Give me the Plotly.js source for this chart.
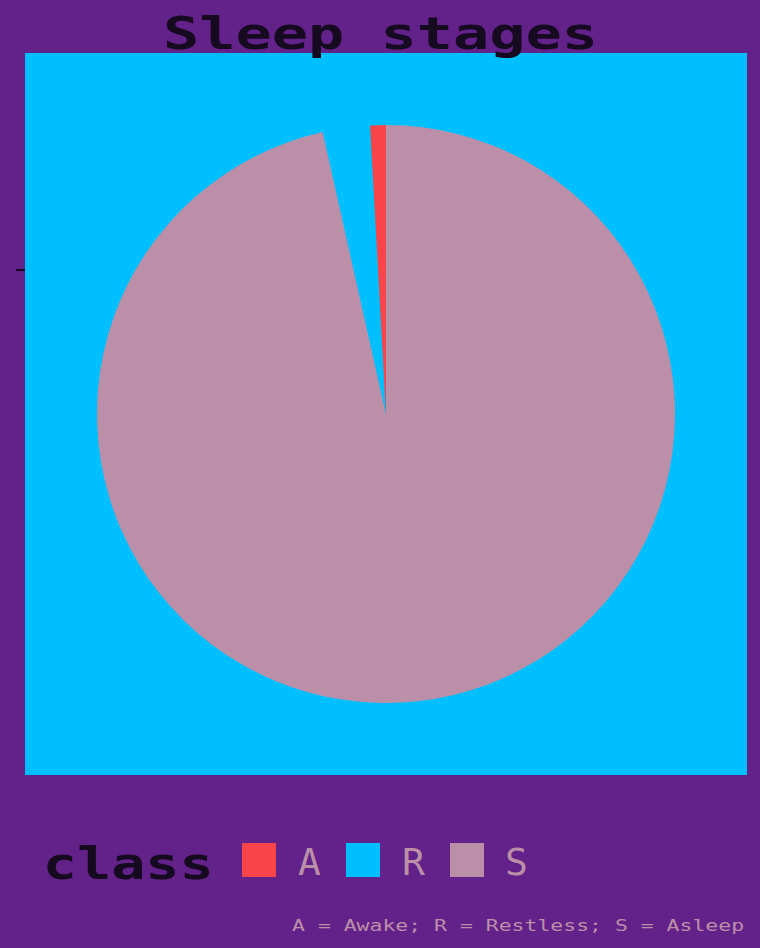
<!DOCTYPE html>
<html>
<head>
<meta charset="utf-8">
<script src="https://cdn.plot.ly/plotly-3.0.1.min.js"></script>
<style>
html,body{margin:0;padding:0;background:#63218A;}
#chart{width:760px;height:948px;}
</style>
</head>
<body>
<div id="chart"></div>
<script>
// Data
var classes = ['A', 'R', 'S'];
var minutes = [4, 12, 440];
var sliceColors = ['#F94449', '#00BFFF', '#BB8FA8'];
var titleText = 'Sleep stages';
var legendTitle = 'class';
var captionText = 'A = Awake; R = Restless; S = Asleep';

var W = 760, H = 948;
function px(x){ return x / W; }
function py(y){ return 1 - y / H; }

var dark = '#150A20';
var mauve = '#BB8FA8';
var mono = 'DejaVu Sans Mono, monospace';

// clockwise from 12 o'clock in reverse class order, so A ends just left of the top
var trace = {
  type: 'pie',
  labels: classes.slice().reverse(),
  values: minutes.slice().reverse(),
  marker: {colors: sliceColors.slice().reverse(), line: {width: 0}},
  sort: false,
  direction: 'clockwise',
  rotation: 0,
  textinfo: 'none',
  hoverinfo: 'label+value+percent',
  showlegend: false,
  domain: {x: [px(97), px(675)], y: [py(703), py(125)]}
};

var shapes = [
  {type: 'rect', xref: 'paper', yref: 'paper', layer: 'below',
   x0: px(25), x1: px(747), y0: py(775), y1: py(53),
   fillcolor: '#00BFFF', line: {width: 0}},
  {type: 'line', xref: 'paper', yref: 'paper',
   x0: px(16), x1: px(25), y0: py(270), y1: py(270),
   line: {color: dark, width: 2}}
];

var annotations = [
  {text: legendTitle, xref: 'paper', yref: 'paper', x: px(127.5), y: py(863.5),
   xanchor: 'center', yanchor: 'middle', showarrow: false,
   font: {family: mono, size: 44, color: dark, weight: 'bold'}},
  {text: captionText, xref: 'paper', yref: 'paper', x: px(518), y: py(925.7),
   xanchor: 'center', yanchor: 'middle', showarrow: false,
   font: {family: mono, size: 15, color: mauve}}
];

var keyX = [242, 346, 450];
var labelX = [309, 413, 516.5];
for (var i = 0; i < classes.length; i++) {
  shapes.push({type: 'rect', xref: 'paper', yref: 'paper',
    x0: px(keyX[i]), x1: px(keyX[i] + 34), y0: py(877), y1: py(843),
    fillcolor: sliceColors[i], line: {width: 0}});
  annotations.push({text: classes[i], xref: 'paper', yref: 'paper',
    x: px(labelX[i]), y: py(861.5), xanchor: 'center', yanchor: 'middle',
    showarrow: false, font: {family: mono, size: 38, color: mauve}});
}

var layout = {
  width: W, height: H,
  margin: {l: 0, r: 0, t: 0, b: 0},
  paper_bgcolor: '#63218A',
  plot_bgcolor: '#63218A',
  title: {text: titleText, x: px(380.5), xanchor: 'center',
          y: py(34), yanchor: 'middle',
          font: {family: mono, size: 44, color: dark, weight: 'bold'}},
  shapes: shapes,
  annotations: annotations
};

var stretch = {};
stretch[titleText] = 435;
stretch[legendTitle] = 171;
stretch[captionText] = 452;

function applyStretch(){
  var nodes = document.querySelectorAll('#chart text');
  nodes.forEach(function(n){
    var t = n.textContent;
    if (stretch[t]) {
      n.setAttribute('textLength', stretch[t]);
      n.setAttribute('lengthAdjust', 'spacingAndGlyphs');
    }
  });
}

Plotly.newPlot('chart', [trace], layout, {displayModeBar: false})
  .then(applyStretch);
</script>
</body>
</html>
